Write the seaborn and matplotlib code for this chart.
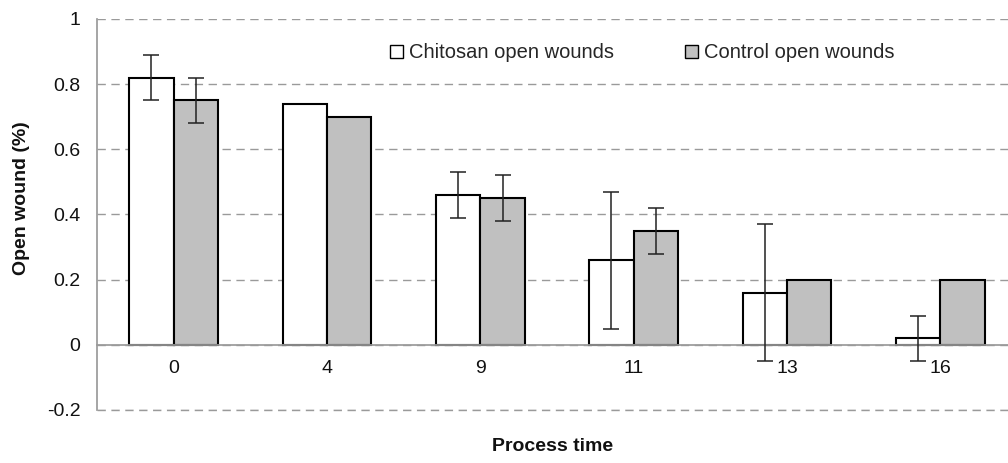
import numpy as np
import pandas as pd
import matplotlib
matplotlib.use("Agg")
import matplotlib.pyplot as plt
from matplotlib.patches import Patch
from matplotlib.ticker import FixedLocator
import seaborn as sns

# Data
times = ["0", "4", "9", "11", "13", "16"]
chitosan = [0.82, 0.74, 0.46, 0.26, 0.16, 0.02]
chitosan_err = [0.07, 0.0, 0.07, 0.21, 0.21, 0.07]
control = [0.75, 0.70, 0.45, 0.35, 0.20, 0.20]
control_err = [0.07, 0.0, 0.07, 0.07, 0.0, 0.0]
groups = ["Chitosan open wounds", "Control open wounds"]
yticks = [-0.2, 0, 0.2, 0.4, 0.6, 0.8, 1.0]
ytick_labels = ["-0.2", "0", "0.2", "0.4", "0.6", "0.8", "1"]

df = pd.DataFrame({
    "time": times * 2,
    "value": chitosan + control,
    "err": chitosan_err + control_err,
    "group": [groups[0]] * len(times) + [groups[1]] * len(times),
})

sns.set_theme(style="white")
plt.rcParams["font.family"] = ["Liberation Sans", "DejaVu Sans"]

colors = {groups[0]: "#FFFFFF", groups[1]: "#C0C0C0"}
grid_col = "#9A9A9A"
text_col = "#111111"

fig = plt.figure(figsize=(10.08, 4.63), dpi=100)
ax = fig.add_axes([97 / 1008, 1 - 410 / 463, 920 / 1008, 391 / 463])

sns.barplot(data=df, x="time", y="value", hue="group", order=times,
            hue_order=groups, palette=colors, width=0.58, gap=0,
            edgecolor="black", linewidth=1.5, errorbar=None, legend=False, ax=ax)

# error bars at the bar centres (none where the sd is zero)
n = len(times)
for patch_group, g in zip([ax.patches[:n], ax.patches[n:2 * n]], groups):
    sub = df[df["group"] == g]
    for p, (_, row) in zip(patch_group, sub.iterrows()):
        if row["err"] > 0:
            ax.errorbar(p.get_x() + p.get_width() / 2, row["value"], yerr=row["err"],
                        fmt="none", ecolor="#222222", elinewidth=1.1, capsize=6,
                        capthick=1.1, zorder=5)

ax.set_ylim(-0.2, 1.0)
ax.set_xlim(-0.5, 5.5)
ax.set_yticks(yticks)
ax.set_yticklabels(ytick_labels)
ax.tick_params(axis="y", length=0, pad=12, labelsize=14, labelcolor=text_col)

# horizontal axis crosses at zero, Excel style
ax.spines["bottom"].set_position(("data", 0))
ax.spines["bottom"].set_color(grid_col)
ax.spines["left"].set_color(grid_col)
ax.spines["top"].set_visible(False)
ax.spines["right"].set_visible(False)
ax.tick_params(axis="x", which="major", length=0, pad=11, labelsize=14,
               labelcolor=text_col)
ax.xaxis.set_minor_locator(FixedLocator(np.arange(-0.5, n, 1)))
ax.tick_params(axis="x", which="minor", length=6, color=grid_col, width=1, direction="out")

ax.yaxis.grid(True, linestyle=(0, (6, 4)), color=grid_col, linewidth=1)
ax.axhline(-0.2, linestyle=(0, (6, 4)), color=grid_col, linewidth=1, clip_on=False, zorder=0)
ax.set_axisbelow(True)

ax.set_xlabel("Process time", fontsize=14, fontweight="bold", color=text_col)
ax.xaxis.set_label_coords(0.495, -0.072)
ax.set_ylabel("Open wound (%)", fontsize=14, fontweight="bold", color=text_col)
ax.yaxis.set_label_coords(-0.073, 0.542)

handles = [Patch(facecolor=colors[g], edgecolor="black", linewidth=1) for g in groups]
fig.legend(handles, groups, loc="center left", bbox_to_anchor=(390 / 1008, 1 - 53 / 463),
           ncol=2, frameon=False, fontsize=14.5, handlelength=0.65, handleheight=0.65,
           handletextpad=0.3, columnspacing=3.5, borderaxespad=0, borderpad=0)

fig.savefig("out.png", dpi=100)
